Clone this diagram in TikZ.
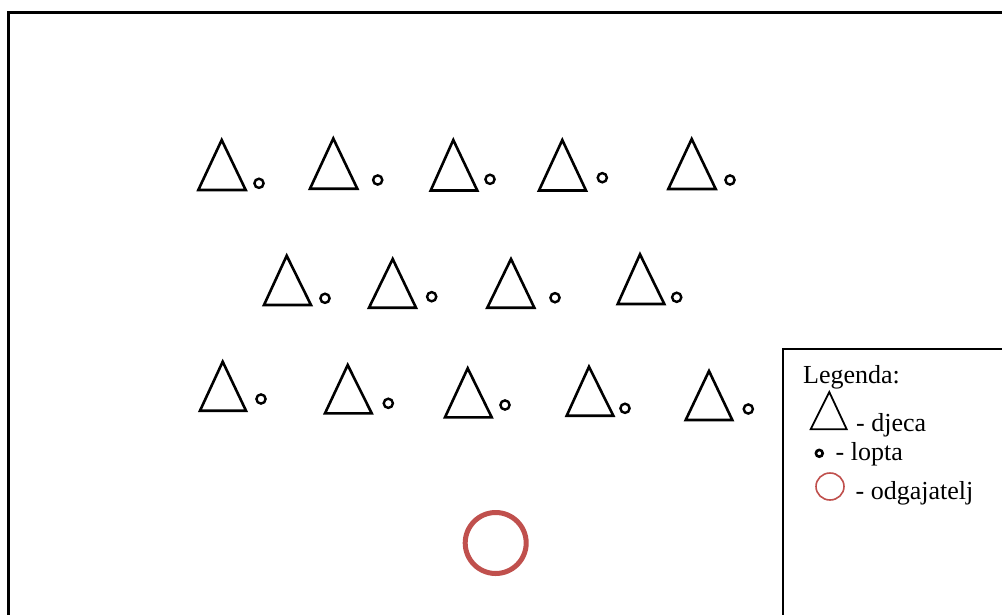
\documentclass[tikz,border=0pt]{standalone}
\usepackage{fontspec}
\setmainfont{Liberation Serif}
\definecolor{odg}{HTML}{C0504D}
\tikzset{
  tri/.style={draw=black, line width=2.6pt, line join=miter},
  ball/.style={draw=black, line width=2.4pt},
  legtext/.style={anchor=base west, inner sep=0pt, font=\fontsize{26}{30}\selectfont},
}
\newcommand{\kid}[6]{% apex x, apex y, left x, right x, bottom y, name
  \draw[tri] (#1,#2) -- (#4,#5) -- (#3,#5) -- cycle;}
\newcommand{\lball}[2]{\draw[ball] (#1,#2) circle[radius=4.6];}
\begin{document}
\begin{tikzpicture}[x=1pt,y=-1pt]
\useasboundingbox (0,0) rectangle (1002,614);
\clip (0,0) rectangle (1002,614);
\fill[white] (0,0) rectangle (1002,614);
\draw[line width=3pt] (8.5,12) rectangle (1015,630);
% row 1
\kid{221.7}{140}{198.3}{245.7}{190}{a1} \lball{259}{183.3}
\kid{333.3}{138.5}{310}{357.3}{188.7}{a2} \lball{377.7}{180}
\kid{453.3}{140}{430.7}{477.3}{190.5}{a3} \lball{490}{179.3}
\kid{562.3}{140}{539}{586}{190.5}{a4} \lball{602.3}{177.7}
\kid{691.7}{139}{668.3}{715.7}{189}{a5} \lball{730}{180}
% row 2
\kid{286.7}{255.7}{264}{311}{305}{b1} \lball{325}{298.3}
\kid{392.7}{259}{369}{416}{307.7}{b2} \lball{431.7}{296.7}
\kid{511}{259}{487.3}{534.3}{307.7}{b3} \lball{555}{297.7}
\kid{640}{254.3}{617.7}{664.3}{304}{b4} \lball{676.7}{297.3}
% row 3
\kid{222.7}{361.7}{200}{246}{410.7}{c1} \lball{261}{399}
\kid{347.7}{365}{325}{371.7}{413.3}{c2} \lball{388.3}{403.3}
\kid{467.7}{368.3}{445}{491.7}{417.3}{c3} \lball{505}{405}
\kid{589}{366.7}{566.7}{613.3}{415.7}{c4} \lball{625}{408.3}
\kid{709}{371}{685.7}{732.3}{420}{c5} \lball{748.3}{409}
% educator
\draw[odg, line width=5pt] (495.7,543) circle[radius=30.5];
% legend
\draw[line width=1.8pt, fill=white] (783,349.3) rectangle (1015,630);
\node[legtext] (leg) at (803,383.3) {Legenda:};
\draw[black, line width=1.8pt, line join=miter] (829.3,392) -- (846.7,429.3) -- (810.7,429.3) -- cycle;
\node[legtext] (ldjeca) at (856,431.7) {- djeca};
\draw[black, line width=2.6pt] (819.3,453.3) circle[radius=3.4];
\node[legtext] (llopta) at (835.5,460.5) {- lopta};
\draw[odg, line width=1.6pt] (830,486.5) ellipse[x radius=14, y radius=13.5];
\node[legtext] (lodg) at (855.5,499.5) {- odgajatelj};
\end{tikzpicture}
\end{document}
